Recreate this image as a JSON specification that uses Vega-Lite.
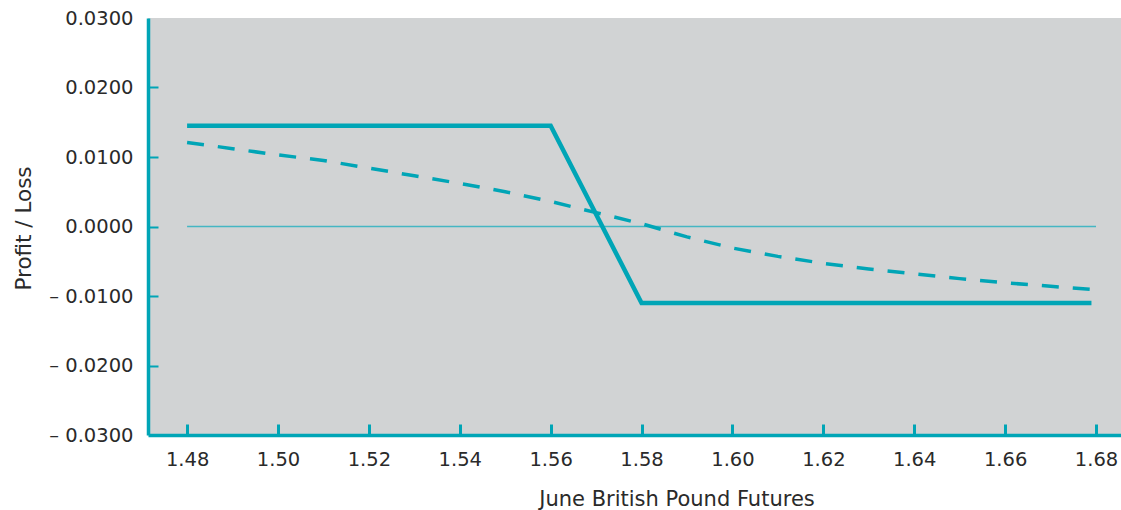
{
  "$schema": "https://vega.github.io/schema/vega-lite/v6.json",
  "width": 973,
  "height": 417,
  "autosize": "none",
  "padding": {"left": 148, "top": 18, "right": 0, "bottom": 75},
  "background": "white",
  "config": {
    "view": {"fill": "#d1d3d4", "stroke": null},
    "font": "DejaVu Sans"
  },
  "datasets": {
    "zero": [{"x": 1.48, "x2": 1.68, "y": 0}],
    "solid": [
      {"x": 1.48, "y": 0.0145},
      {"x": 1.56, "y": 0.0145},
      {"x": 1.58, "y": -0.0110},
      {"x": 1.679, "y": -0.0110}
    ],
    "dashed": [
      {"x": 1.48, "y": 0.0121},
      {"x": 1.49, "y": 0.0112},
      {"x": 1.50, "y": 0.0103},
      {"x": 1.51, "y": 0.0095},
      {"x": 1.52, "y": 0.0084},
      {"x": 1.53, "y": 0.0073},
      {"x": 1.54, "y": 0.0062},
      {"x": 1.55, "y": 0.0050},
      {"x": 1.56, "y": 0.0036},
      {"x": 1.57, "y": 0.0020},
      {"x": 1.58, "y": 0.0004},
      {"x": 1.59, "y": -0.0015},
      {"x": 1.60, "y": -0.0031},
      {"x": 1.61, "y": -0.0043},
      {"x": 1.62, "y": -0.0053},
      {"x": 1.63, "y": -0.0061},
      {"x": 1.64, "y": -0.0068},
      {"x": 1.65, "y": -0.0075},
      {"x": 1.66, "y": -0.0081},
      {"x": 1.67, "y": -0.0086},
      {"x": 1.68, "y": -0.0091}
    ]
  },
  "encoding": {
    "x": {
      "field": "x",
      "type": "quantitative",
      "scale": {"domain": [1.4714, 1.6855], "nice": false, "zero": false},
      "axis": {
        "values": [1.48, 1.5, 1.52, 1.54, 1.56, 1.58, 1.6, 1.62, 1.64, 1.66, 1.68],
        "format": ".2f",
        "grid": false,
        "domainColor": "#00a5b6",
        "domainWidth": 3.5,
        "tickColor": "#00a5b6",
        "tickWidth": 3,
        "tickSize": -11,
        "labelPadding": 26.5,
        "labelFontSize": 19.5,
        "labelColor": "#2a2a2a",
        "labelFlush": false,
        "title": "June British Pound Futures",
        "titleFontSize": 21,
        "titleFontWeight": "normal",
        "titleColor": "#2a2a2a",
        "titleX": 528.5,
        "titleY": 70,
        "titleAlign": "center",
        "titleBaseline": "alphabetic"
      }
    },
    "y": {
      "field": "y",
      "type": "quantitative",
      "scale": {"domain": [-0.03, 0.03], "nice": false, "zero": false},
      "axis": {
        "values": [-0.03, -0.02, -0.01, 0, 0.01, 0.02, 0.03],
        "labelExpr": "datum.value < -0.00001 ? '– ' + format(-datum.value, '.4f') : format(abs(datum.value), '.4f')",
        "grid": false,
        "domainColor": "#00a5b6",
        "domainWidth": 3.5,
        "tickColor": "#00a5b6",
        "tickWidth": 2,
        "tickSize": -10,
        "tickOpacity": {"condition": {"test": "abs(datum.value) > 0.029", "value": 0}, "value": 1},
        "labelPadding": 25,
        "labelFontSize": 19.5,
        "labelColor": "#2a2a2a",
        "labelFlush": false,
        "title": "Profit / Loss",
        "titleFontSize": 21.5,
        "titleFontWeight": "normal",
        "titleColor": "#2a2a2a",
        "titleAngle": -90,
        "titleX": -118,
        "titleY": 210,
        "titleAlign": "center",
        "titleBaseline": "alphabetic"
      }
    }
  },
  "layer": [
    {
      "data": {"name": "zero"},
      "mark": {"type": "rule", "color": "#45b6c3", "strokeWidth": 1.5},
      "encoding": {"x2": {"field": "x2"}}
    },
    {
      "data": {"name": "dashed"},
      "mark": {"type": "line", "color": "#00a5b6", "strokeWidth": 3.5, "strokeDash": [17, 14]}
    },
    {
      "data": {"name": "solid"},
      "mark": {"type": "line", "color": "#00a5b6", "strokeWidth": 4.5}
    }
  ]
}
